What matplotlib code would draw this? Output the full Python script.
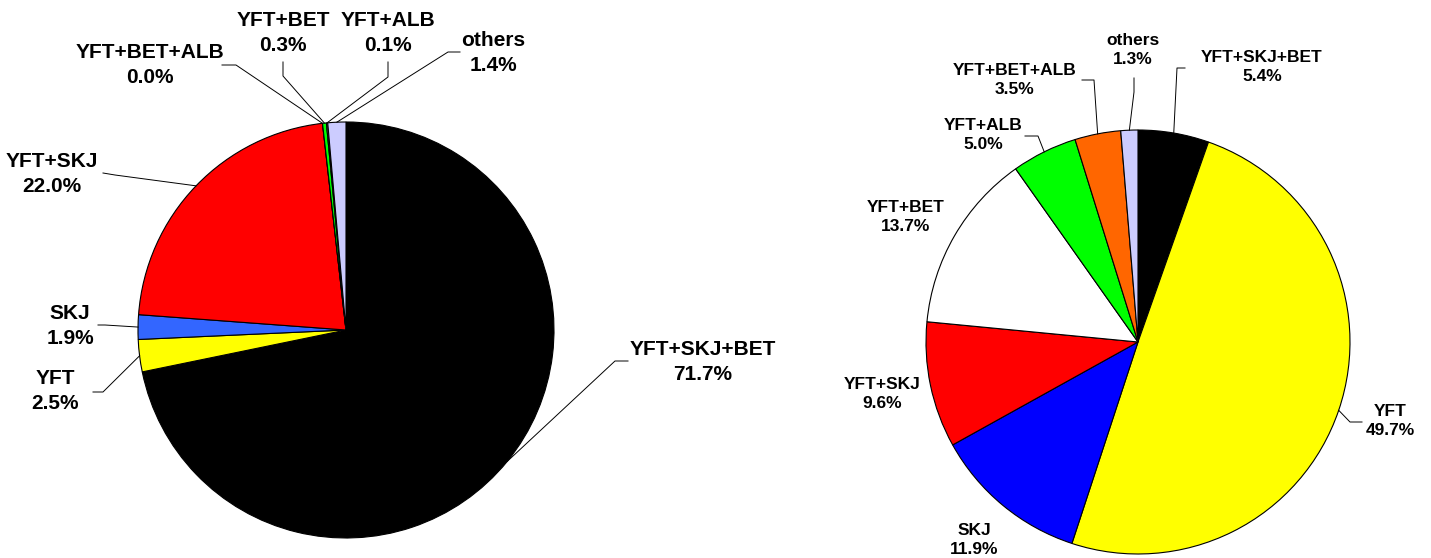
import numpy as np
import matplotlib.pyplot as plt

# left pie
left_labels = ['YFT+SKJ+BET', 'YFT', 'SKJ', 'YFT+SKJ', 'YFT+BET+ALB', 'YFT+BET', 'YFT+ALB', 'others']
left_values = [71.7, 2.5, 1.9, 22.0, 0.0, 0.3, 0.1, 1.4]
left_colors = ['#000000', '#FFFF00', '#3366FF', '#FF0000', '#FF6600', '#00FF00', '#FFFFFF', '#CCCCFF']

# right pie
right_labels = ['YFT+SKJ+BET', 'YFT', 'SKJ', 'YFT+SKJ', 'YFT+BET', 'YFT+ALB', 'YFT+BET+ALB', 'others']
right_values = [5.4, 49.7, 11.9, 9.6, 13.7, 5.0, 3.5, 1.3]
right_colors = ['#000000', '#FFFF00', '#0000FF', '#FF0000', '#FFFFFF', '#00FF00', '#FF6600', '#CCCCFF']

W, H = 1431, 558
plt.rcParams['font.family'] = ['Liberation Sans', 'DejaVu Sans']

fig = plt.figure(figsize=(W / 100, H / 100), dpi=100)
ax = fig.add_axes([0, 0, 1, 1])
ax.axis('off')


def P(x, y):
    # pixel coords (y down) -> data coords (y up)
    return x, H - y


def draw_pie(values, colors, cx, cy, r):
    wedges, _ = ax.pie(values, colors=colors, center=P(cx, cy), radius=r,
                       startangle=90, counterclock=False,
                       wedgeprops=dict(edgecolor='black', linewidth=0.8))
    return wedges


def label(wedges, i, labels, values, txt, size, leader=None):
    w = wedges[i]
    ax.text(*P(*txt), f'{labels[i]}\n{values[i]:.1f}%', ha='center', va='center',
            fontsize=size, fontweight='bold', linespacing=1.35)
    if leader is None:
        return
    mid = np.deg2rad((w.theta1 + w.theta2) / 2)
    ex = w.center[0] + w.r * np.cos(mid)
    ey = w.center[1] + w.r * np.sin(mid)
    xs = [P(*p)[0] for p in leader] + [ex]
    ys = [P(*p)[1] for p in leader] + [ey]
    ax.plot(xs, ys, color='black', lw=0.7)


lw = draw_pie(left_values, left_colors, 346, 330, 208)
lsz = 15
label(lw, 0, left_labels, left_values, (703, 362), lsz, [(628, 361), (615, 361)])
label(lw, 1, left_labels, left_values, (55, 391), lsz, [(93, 392), (103, 392)])
label(lw, 2, left_labels, left_values, (70, 326), lsz, [(98, 325), (105, 325)])
label(lw, 3, left_labels, left_values, (52, 174), lsz, [(103, 173), (115, 175)])
label(lw, 4, left_labels, left_values, (150, 65), lsz, [(222, 65), (236, 65)])
label(lw, 5, left_labels, left_values, (283, 33), lsz, [(283, 62), (283, 76)])
label(lw, 6, left_labels, left_values, (388, 33), lsz, [(388, 62), (388, 77)])
label(lw, 7, left_labels, left_values, (493, 53), lsz, [(460, 52), (448, 52)])

rw = draw_pie(right_values, right_colors, 1138, 342, 212)
rsz = 12.5
label(rw, 0, right_labels, right_values, (1262, 67), rsz, [(1185, 68), (1177, 68)])
label(rw, 1, right_labels, right_values, (1390, 421), rsz, [(1362, 422), (1350, 422)])
label(rw, 2, right_labels, right_values, (974, 540), rsz)
label(rw, 3, right_labels, right_values, (882, 394), rsz)
label(rw, 4, right_labels, right_values, (906, 217), rsz)
label(rw, 5, right_labels, right_values, (983, 135), rsz, [(1025, 136), (1038, 136)])
label(rw, 6, right_labels, right_values, (1015, 80), rsz, [(1082, 80), (1094, 80)])
label(rw, 7, right_labels, right_values, (1133, 50), rsz, [(1134, 78), (1134, 92)])

ax.set_xlim(0, W)
ax.set_ylim(0, H)
ax.set_aspect('auto')
fig.savefig('out.png', dpi=100)
